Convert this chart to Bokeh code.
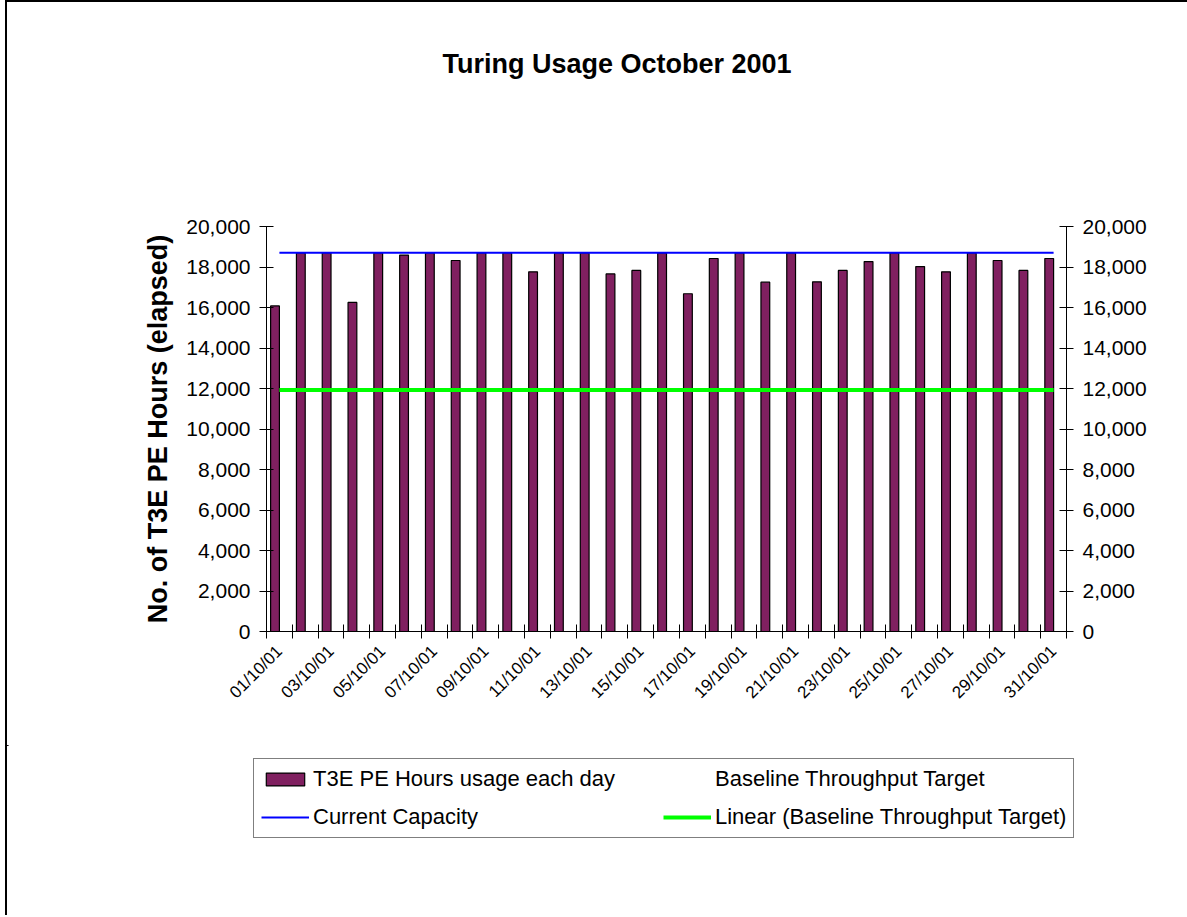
import math
import numpy as np
from bokeh.plotting import figure
from bokeh.layouts import column
from bokeh.models import (Range1d, LinearAxis, FixedTicker, NumeralTickFormatter,
                          Legend, LegendItem, Label, ColumnDataSource)
from bokeh.transform import dodge
from bokeh.embed import file_html
from bokeh.resources import INLINE

# ---------------- data ----------------
days = ["01/10/01", "02/10/01", "03/10/01", "04/10/01", "05/10/01", "06/10/01",
        "07/10/01", "08/10/01", "09/10/01", "10/10/01", "11/10/01", "12/10/01",
        "13/10/01", "14/10/01", "15/10/01", "16/10/01", "17/10/01", "18/10/01",
        "19/10/01", "20/10/01", "21/10/01", "22/10/01", "23/10/01", "24/10/01",
        "25/10/01", "26/10/01", "27/10/01", "28/10/01", "29/10/01", "30/10/01",
        "31/10/01"]
usage = [16080, 18700, 18700, 16250, 18700, 18590, 18700, 18320, 18700, 18700,
         17760, 18700, 18700, 17660, 17830, 18700, 16680, 18420, 18700, 17250,
         18700, 17270, 17830, 18270, 18700, 18020, 17760, 18700, 18320, 17830,
         18420]
capacity = [18700] * 31
baseline = [11920] * 31
y_ticks = [0, 2000, 4000, 6000, 8000, 10000, 12000, 14000, 16000, 18000, 20000]
label_days = days[::2]
series_names = ["T3E PE Hours usage each day", "Current Capacity",
                "Baseline Throughput Target", "Linear (Baseline Throughput Target)"]
title_text = "Turing Usage October 2001"
y_title = "No. of T3E PE Hours (elapsed)"

FONT = "Liberation Sans"
BAR_COLOR = "#802060"

idx = np.arange(len(days))
centers = idx + 0.5
coef = np.polyfit(idx, baseline, 1)
trend = np.polyval(coef, idx)

src = ColumnDataSource(dict(x=centers, usage=usage, capacity=capacity,
                            baseline=baseline, trend=trend))

W = 1180
EDGE = {"border-left": "2px solid black", "margin-left": "5px"}


def blank(fig):
    fig.xgrid.visible = False
    fig.ygrid.visible = False
    fig.outline_line_color = None
    fig.background_fill_color = "white"
    fig.border_fill_color = "white"


def draw_series(fig, x_range):
    b = fig.vbar(x=dodge("x", -0.17, range=x_range), top="usage", width=0.34,
                 fill_color=BAR_COLOR, line_color="black", line_width=1.2, source=src)
    s = fig.vbar(x=dodge("x", 0.17, range=x_range), top="baseline", width=0.34,
                 fill_alpha=0, line_alpha=0, source=src)
    c = fig.line("x", "capacity", line_color="#0000FF", line_width=2, source=src)
    r = fig.line("x", "trend", line_color="#00FF00", line_width=4, source=src)
    return b, c, s, r


# ---------- title strip ----------
HT = 100
t = figure(width=W, height=HT, output_backend="svg", toolbar_location=None,
           x_axis_type=None, y_axis_type=None,
           x_range=Range1d(0, 1), y_range=Range1d(0, 1),
           min_border_left=0, min_border_right=0, min_border_top=0, min_border_bottom=0)
blank(t)
t.add_layout(Label(x=176, y=39, x_units="screen", y_units="screen",
                   text=title_text, text_align="left", text_baseline="alphabetic",
                   text_font=FONT, text_font_size="27px", text_font_style="bold",
                   text_color="black"))

# ---------- main chart ----------
H1 = 643
p = figure(width=W, height=H1, output_backend="svg", toolbar_location=None,
           x_range=Range1d(0, len(days)), y_range=Range1d(0, 20000),
           min_border_left=259, min_border_right=121,
           min_border_top=124, min_border_bottom=114)
blank(p)
bars, cap, base, tr = draw_series(p, p.x_range)

# x axis: tick marks at category boundaries, labels at every other category
xa = p.xaxis[0]
xa.ticker = FixedTicker(ticks=list(centers[::2]), minor_ticks=list(range(len(days) + 1)))
xa.major_label_overrides = {float(c): d for c, d in zip(centers[::2], label_days)}
xa.major_tick_in = 0
xa.major_tick_out = 0
xa.minor_tick_in = 7
xa.minor_tick_out = 7
xa.minor_tick_line_color = "black"
xa.axis_line_color = "black"
xa.major_label_orientation = math.pi / 4
xa.major_label_standoff = 10
xa.major_label_text_font = FONT
xa.major_label_text_font_size = "17px"
xa.major_label_text_color = "black"


def style_y(ax):
    ax.ticker = FixedTicker(ticks=y_ticks, minor_ticks=[])
    ax.formatter = NumeralTickFormatter(format="0,0")
    ax.major_tick_in = 7
    ax.major_tick_out = 7
    ax.major_tick_line_color = "black"
    ax.minor_tick_line_color = None
    ax.axis_line_color = "black"
    ax.major_label_text_font = FONT
    ax.major_label_text_font_size = "21px"
    ax.major_label_text_color = "black"


ya = p.yaxis[0]
style_y(ya)
ya.major_label_standoff = 9
ya.axis_label = y_title
ya.axis_label_text_font = FONT
ya.axis_label_text_font_size = "27px"
ya.axis_label_text_font_style = "bold"
ya.axis_label_text_color = "black"
ya.axis_label_standoff = 10

yr = LinearAxis()
style_y(yr)
yr.major_label_standoff = 9
p.add_layout(yr, "right")

top_block = column(t, p, spacing=0)
top_block.styles = dict(EDGE, **{"border-top": "2px solid black"})

# ---------- legend strip (same series, ranges kept off-view: keys only) ----------
H2 = 170
q_xr = Range1d(1000, 1001)
q = figure(width=W, height=H2, output_backend="svg", toolbar_location=None,
           x_axis_type=None, y_axis_type=None,
           x_range=q_xr, y_range=Range1d(-1000, -999),
           min_border_left=0, min_border_right=0, min_border_top=0, min_border_bottom=0)
blank(q)
k_bar, k_cap, k_base, k_tr = draw_series(q, q_xr)
q.styles = EDGE

leg = Legend(items=[LegendItem(label=series_names[0], renderers=[k_bar]),
                    LegendItem(label=series_names[1], renderers=[k_cap]),
                    LegendItem(label=series_names[2], renderers=[k_base]),
                    LegendItem(label=series_names[3], renderers=[k_tr])],
             ncols=2, location=(246, 77), label_width=338,
             glyph_width=48, glyph_height=16, label_height=22, padding=7,
             spacing=12, label_standoff=4, margin=0,
             label_text_font=FONT, label_text_font_size="22px",
             label_text_color="black",
             border_line_color="black", border_line_width=1,
             background_fill_color="white", background_fill_alpha=1)
q.add_layout(leg, "center")

open("out.html", "w").write(file_html([top_block, q], INLINE))
